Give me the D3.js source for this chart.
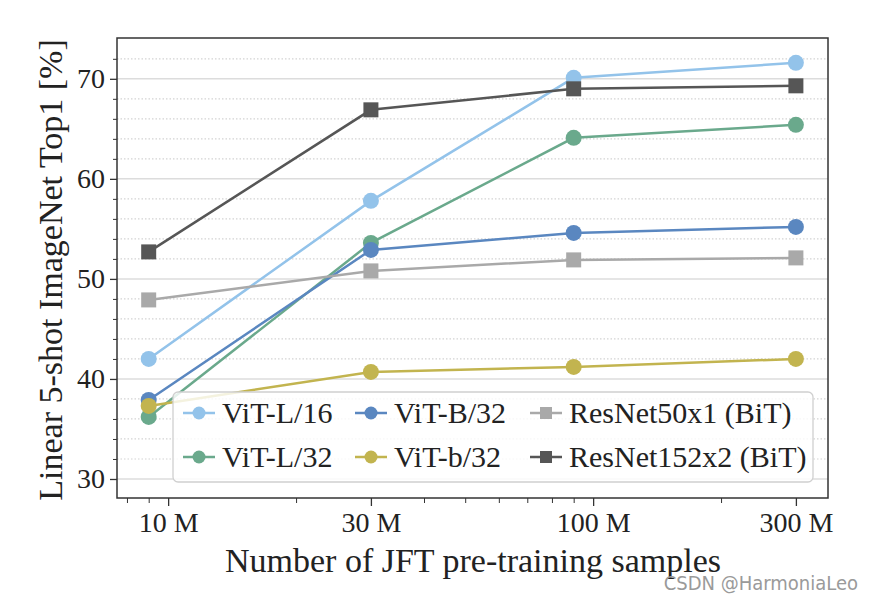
<!DOCTYPE html>
<html><head><meta charset="utf-8">
<script src="https://cdn.jsdelivr.net/npm/d3@7"></script>
<style>body{margin:0;background:#fff}svg{display:block}</style>
</head><body>
<svg id="c" width="874" height="604"></svg>
<script>
const samples = [9e6, 30e6, 90e6, 300e6];
const xTickValues = [10e6, 30e6, 100e6, 300e6];
const xTickLabels = ["10 M", "30 M", "100 M", "300 M"];
const xMinorTicks = [8e6, 9e6, 20e6, 40e6, 50e6, 60e6, 70e6, 80e6, 90e6, 200e6];
const yTickValues = [30, 40, 50, 60, 70];
const yMinorTicks = [32, 34, 36, 38, 42, 44, 46, 48, 52, 54, 56, 58, 62, 64, 66, 68, 72];
const seriesNames = ["ViT-L/16", "ViT-L/32", "ViT-B/32", "ViT-b/32", "ResNet50x1 (BiT)", "ResNet152x2 (BiT)"];
const vitL16 = [42.0, 57.8, 70.1, 71.6];
const vitL32 = [36.2, 53.6, 64.1, 65.4];
const vitB32 = [37.9, 52.9, 54.6, 55.2];
const vitb32 = [37.3, 40.7, 41.2, 42.0];
const res50 = [47.9, 50.8, 51.9, 52.1];
const res152 = [52.7, 66.9, 69.0, 69.3];
const seriesColors = ["#93c3ea", "#6aa98c", "#5a87c0", "#c2b44f", "#a9a9a9", "#565656"];
const seriesMarkers = ["circle", "circle", "circle", "circle", "square", "square"];
const seriesValues = [vitL16, vitL32, vitB32, vitb32, res50, res152];
const legendOrder = [0, 1, 2, 3, 4, 5];

const svg = d3.select("#c");
const L = 117, R = 828, T = 38, B = 498;
const x = d3.scaleLog().domain([7.58e6, 357e6]).range([L, R]);
const y = d3.scaleLinear().domain([28.1, 74.08]).range([B, T]);
const serif = "'Liberation Serif','Times New Roman',serif";

svg.append("g").selectAll("line").data(yMinorTicks).join("line")
  .attr("x1", L).attr("x2", R).attr("y1", d => y(d)).attr("y2", d => y(d))
  .attr("stroke", "#d4d4d4").attr("stroke-width", 1.2).attr("stroke-dasharray", "1.5,2");
svg.append("g").selectAll("line").data(yTickValues).join("line")
  .attr("x1", L).attr("x2", R).attr("y1", d => y(d)).attr("y2", d => y(d))
  .attr("stroke", "#dcdcdc").attr("stroke-width", 1.5);

const yAxis = d3.axisLeft(y).tickValues(yTickValues).tickSize(7).tickPadding(5).tickFormat(d3.format("d"));
const gy = svg.append("g").attr("transform", `translate(${L},0)`).call(yAxis);
gy.select(".domain").remove();
gy.selectAll("text").attr("font-family", serif).attr("font-size", 28).attr("fill", "#222");
gy.selectAll("line").attr("stroke", "#333").attr("stroke-width", 1.3);
const gym = svg.append("g").attr("transform", `translate(${L},0)`)
  .call(d3.axisLeft(y).tickValues(yMinorTicks).tickSize(4).tickFormat(""));
gym.select(".domain").remove();
gym.selectAll("line").attr("stroke", "#333").attr("stroke-width", 1);

const xAxis = d3.axisBottom(x).tickValues(xTickValues).tickSize(8).tickPadding(6)
  .tickFormat((d, i) => xTickLabels[i]);
const gx = svg.append("g").attr("transform", `translate(0,${B})`).call(xAxis);
gx.select(".domain").remove();
gx.selectAll("text").attr("font-family", serif).attr("font-size", 28).attr("fill", "#222");
gx.selectAll("line").attr("stroke", "#333").attr("stroke-width", 1.3);
const gxm = svg.append("g").attr("transform", `translate(0,${B})`)
  .call(d3.axisBottom(x).tickValues(xMinorTicks).tickSize(5).tickFormat(""));
gxm.select(".domain").remove();
gxm.selectAll("line").attr("stroke", "#333").attr("stroke-width", 1);

const line = d3.line().x((d, i) => x(samples[i])).y(d => y(d));
seriesValues.forEach((vals, s) => {
  const g = svg.append("g");
  g.append("path").datum(vals).attr("d", line).attr("fill", "none")
    .attr("stroke", seriesColors[s]).attr("stroke-width", 2.5);
  if (seriesMarkers[s] === "circle") {
    g.selectAll("circle").data(vals).join("circle")
      .attr("cx", (d, i) => x(samples[i])).attr("cy", d => y(d)).attr("r", 8)
      .attr("fill", seriesColors[s]);
  } else {
    g.selectAll("rect").data(vals).join("rect")
      .attr("x", (d, i) => x(samples[i]) - 7.5).attr("y", d => y(d) - 7.5)
      .attr("width", 15).attr("height", 15).attr("fill", seriesColors[s]);
  }
});

const lg = svg.append("g");
lg.append("rect").attr("x", 173).attr("y", 392).attr("width", 640).attr("height", 90).attr("rx", 5)
  .attr("fill", "#fff").attr("fill-opacity", 0.82).attr("stroke", "#d0d0d0").attr("stroke-width", 1.3);
const colX = [183, 355, 530];
const rowY = [413, 457];
legendOrder.forEach((s, k) => {
  const cx = colX[Math.floor(k / 2)], cy = rowY[k % 2];
  lg.append("line").attr("x1", cx).attr("x2", cx + 32).attr("y1", cy).attr("y2", cy)
    .attr("stroke", seriesColors[s]).attr("stroke-width", 2.5);
  if (seriesMarkers[s] === "circle") {
    lg.append("circle").attr("cx", cx + 16).attr("cy", cy).attr("r", 6.5).attr("fill", seriesColors[s]);
  } else {
    lg.append("rect").attr("x", cx + 10).attr("y", cy - 6).attr("width", 12).attr("height", 12).attr("fill", seriesColors[s]);
  }
  lg.append("text").attr("x", cx + 39).attr("y", cy + 10).text(seriesNames[s])
    .attr("font-family", serif).attr("font-size", 30).attr("fill", "#222");
});

svg.append("rect").attr("x", L).attr("y", T).attr("width", R - L).attr("height", B - T)
  .attr("fill", "none").attr("stroke", "#333").attr("stroke-width", 1.5);

svg.append("text").attr("x", 473).attr("y", 572).attr("text-anchor", "middle")
  .attr("font-family", serif).attr("font-size", 34).attr("fill", "#222")
  .text("Number of JFT pre-training samples");
svg.append("text").attr("transform", "translate(62,270) rotate(-90)").attr("text-anchor", "middle")
  .attr("font-family", serif).attr("font-size", 34).attr("fill", "#222")
  .text("Linear 5-shot ImageNet Top1 [%]");

svg.append("text").attr("x", 858).attr("y", 590).attr("text-anchor", "end")
  .attr("font-family", "'DejaVu Sans Condensed','DejaVu Sans',sans-serif").attr("font-size", 20)
  .attr("fill", "#9a9a9a").text("CSDN @HarmoniaLeo");
</script>
</body></html>
